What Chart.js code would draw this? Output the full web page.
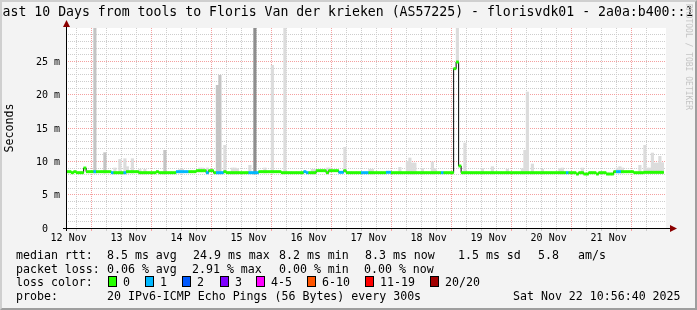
<!DOCTYPE html>
<html>
<head>
<meta charset="utf-8">
<script src="https://cdn.jsdelivr.net/npm/chart.js@4.4.1/dist/chart.umd.min.js"></script>
<style>
  body { margin: 0; background: #f3f3f3; }
  #wrap { position: relative; width: 697px; height: 310px; background: #f3f3f3; overflow: hidden;
          font-family: 'DejaVu Sans Mono', monospace; color: #000; }
  #chart { position: absolute; left: 0; top: 0; }
  #frame { position: absolute; left: 0; top: 0; width: 697px; height: 310px; box-sizing: border-box;
           border-top: 2px solid #cfcfcf; border-left: 2px solid #cfcfcf;
           border-right: 2px solid #9e9e9e; border-bottom: 2px solid #9e9e9e; pointer-events: none; }
  #title { position: absolute; left: 344px; top: 4px; transform: translateX(-50%);
           white-space: pre; font-size: 13.2px; line-height: 16px; }
  #rrd { position: absolute; left: 684px; top: 4px; writing-mode: vertical-rl;
         font-size: 8px; line-height: 9px; color: #c4c4c4; white-space: pre; }
  .t { position: absolute; white-space: pre; font-size: 11.6px; line-height: 14px; }
  .sw { position: absolute; top: 276px; width: 7px; height: 9px; border: 1px solid #000; }
</style>
</head>
<body>
<div id="wrap">
  <canvas id="chart" width="697" height="310"></canvas>
  <div id="title">Last 10 Days from tools to Floris Van der krieken (AS57225) - florisvdk01 - 2a0a:b400::1</div>
  <div id="rrd">RRDTOOL / TOBI OETIKER</div>

  <div class="t" style="left:16px;top:248px">median rtt:</div>
  <div class="t" style="left:107px;top:248px">8.5 ms avg</div>
  <div class="t" style="left:193px;top:248px">24.9 ms max</div>
  <div class="t" style="left:279px;top:248px">8.2 ms min</div>
  <div class="t" style="left:365px;top:248px">8.3 ms now</div>
  <div class="t" style="left:458px;top:248px">1.5 ms sd</div>
  <div class="t" style="left:538px;top:248px">5.8</div>
  <div class="t" style="left:578px;top:248px">am/s</div>

  <div class="t" style="left:16px;top:261.5px">packet loss:</div>
  <div class="t" style="left:107px;top:261.5px">0.06 % avg</div>
  <div class="t" style="left:192px;top:261.5px">2.91 % max</div>
  <div class="t" style="left:279px;top:261.5px">0.00 % min</div>
  <div class="t" style="left:364px;top:261.5px">0.00 % now</div>

  <div class="t" style="left:16px;top:275px">loss color:</div>
  <div id="swatches"></div>

  <div class="t" style="left:16px;top:289px">probe:</div>
  <div class="t" style="left:107px;top:289px">20 IPv6-ICMP Echo Pings (56 Bytes) every 300s</div>
  <div class="t" style="left:513px;top:289px">Sat Nov 22 10:56:40 2025</div>

  <div id="frame"></div>
</div>
<script>
// axes labels
const xTickLabels = ['12 Nov', '13 Nov', '14 Nov', '15 Nov', '16 Nov', '17 Nov', '18 Nov', '19 Nov', '20 Nov', '21 Nov'];
const yTickLabels = ['0  ', '5 m', '10 m', '15 m', '20 m', '25 m'];

// time axis in hours since 12 Nov 00:00, window = last 10 days up to 22 Nov 10:56:40
const viewStart = 10.944;
const viewEnd = 250.944;
const firstBin = 11;   // first hourly bin 12 Nov 11:00

// median rtt per hour (ms)
const medianRtt = [
  8.45, 8.45, 8.3, 8.45, 8.3, 8.3, 8.3, 9.0, 8.45, 8.45, 8.45, 8.45, 8.45, 8.45, 8.45, 8.45, 8.45, 8.45, 8.3, 8.3,
  8.3, 8.3, 8.3, 8.3, 8.45, 8.45, 8.45, 8.45, 8.45, 8.3, 8.3, 8.3, 8.3, 8.3, 8.3, 8.3, 8.45, 8.3, 8.3, 8.3,
  8.3, 8.3, 8.3, 8.3, 8.45, 8.45, 8.45, 8.45, 8.45, 8.45, 8.45, 8.45, 8.6, 8.6, 8.6, 8.6, 8.3, 8.6, 8.6, 8.3,
  8.3, 8.3, 8.3, 8.45, 8.3, 8.3, 8.3, 8.3, 8.3, 8.3, 8.3, 8.3, 8.3, 8.3, 8.3, 8.3, 8.3, 8.45, 8.45, 8.45,
  8.45, 8.45, 8.45, 8.45, 8.45, 8.45, 8.3, 8.3, 8.3, 8.3, 8.3, 8.3, 8.3, 8.3, 8.3, 8.45, 8.3, 8.3, 8.3, 8.3,
  8.6, 8.6, 8.6, 8.6, 8.3, 8.6, 8.6, 8.6, 8.6, 8.35, 8.35, 8.6, 8.3, 8.3, 8.3, 8.3, 8.3, 8.3, 8.3, 8.3,
  8.3, 8.3, 8.3, 8.3, 8.3, 8.3, 8.3, 8.3, 8.35, 8.35, 8.3, 8.3, 8.3, 8.3, 8.3, 8.3, 8.3, 8.3, 8.3, 8.3,
  8.3, 8.3, 8.3, 8.3, 8.3, 8.3, 8.3, 8.3, 8.3, 8.3, 8.3, 8.3, 8.3, 8.3, 8.3, 23.9, 24.9, 9.3, 8.3, 8.3,
  8.3, 8.3, 8.3, 8.3, 8.3, 8.3, 8.3, 8.3, 8.3, 8.3, 8.3, 8.3, 8.3, 8.3, 8.3, 8.3, 8.3, 8.3, 8.3, 8.3,
  8.3, 8.3, 8.3, 8.3, 8.3, 8.3, 8.3, 8.3, 8.3, 8.3, 8.3, 8.3, 8.3, 8.3, 8.3, 8.3, 8.3, 8.3, 8.3, 8.3,
  8.3, 8.3, 8.3, 8.3, 8.1, 8.3, 8.3, 8.1, 8.1, 8.3, 8.3, 8.3, 8.1, 8.3, 8.3, 8.3, 8.1, 8.1, 8.1, 8.45,
  8.45, 8.45, 8.45, 8.45, 8.45, 8.45, 8.45, 8.3, 8.3, 8.3, 8.3, 8.35, 8.35, 8.35, 8.35, 8.35, 8.35, 8.35, 8.35
];

// hours with 1/20 packet loss
const lossOneHours = [11, 18, 23, 44, 45, 46, 47, 48, 56, 60, 61, 62, 73, 74, 75, 76, 95, 96,
  109, 110, 118, 119, 120, 128, 129, 150, 200, 220, 221];

// smoke tops [hour index, ms]
const smokeLight = [
  [19, 9.0], [21, 10.3], [23, 10.4], [24, 9.2], [26, 10.4], [29, 8.8], [31, 8.8], [45, 8.8], [46, 8.8],
  [53, 9.0], [54, 9.0], [56, 9.0], [63, 12.4], [66, 9.0], [67, 9.0], [68, 8.9], [73, 9.4], [79, 9.0],
  [82, 24.4], [87, 31], [98, 8.8], [99, 8.8], [104, 9.0], [105, 9.0], [111, 12.1], [121, 8.8], [122, 8.8],
  [133, 9.1], [136, 10.0], [137, 10.5], [138, 9.75], [139, 9.75], [142, 8.9], [146, 9.9], [147, 8.9],
  [156, 31], [159, 12.75], [166, 8.9], [170, 9.2], [176, 8.8], [182, 8.9], [183, 11.65], [184, 20.4],
  [186, 9.6], [190, 8.8], [197, 8.9], [198, 9.0], [206, 9.0], [220, 9.0], [221, 9.2], [222, 9.0],
  [229, 9.4], [231, 12.4], [232, 9.0], [233, 9.0], [234, 11.25], [235, 9.75], [236, 9.75], [237, 10.75], [238, 9.8]
];
const smokeMid = [[11, 31], [15, 11.3], [39, 11.65], [60, 21.4], [61, 22.9]];
const smokeDark = [[75, 31]];

// loss colors
const lossLabels = ['0', '1', '2', '3', '4-5', '6-10', '11-19', '20/20'];
const lossColors = ['#26ff00', '#00b8ff', '#0059ff', '#7e00ff', '#ff00ff', '#ff5500', '#ff0000', '#a10000'];

// legend swatches
const swLeft = [108, 145, 182, 220, 256, 307, 365, 430];
const swBox = document.getElementById('swatches');
lossLabels.forEach((lab, i) => {
  const b = document.createElement('div');
  b.className = 'sw';
  b.style.left = swLeft[i] + 'px';
  b.style.background = lossColors[i];
  swBox.appendChild(b);
  const t = document.createElement('div');
  t.className = 't';
  t.style.left = (swLeft[i] + 15) + 'px';
  t.style.top = '275px';
  t.textContent = lab;
  swBox.appendChild(t);
});

function smokeData(list) {
  return list.map(([i, top]) => ({ x: firstBin + i + 0.5, y: [medianRtt[i] - 0.2, top] }));
}

const medianBars = medianRtt.map((v, i) => ({ x: firstBin + i + 0.5, y: [v - 0.22, v + 0.22] }));
const medianLine = medianRtt.map((v, i) => ({ x: firstBin + i, y: v }));
medianLine.push({ x: firstBin + medianRtt.length, y: medianRtt[medianRtt.length - 1] });

const RED_GRID = '#f4a0a0';
const GRAY_GRID = '#cdcdcd';
const NONE = 'rgba(0,0,0,0)';

const plotDeco = {
  id: 'plotDeco',
  beforeDraw(chart) {
    const { ctx, chartArea: a } = chart;
    ctx.save();
    ctx.fillStyle = '#ffffff';
    ctx.fillRect(a.left, a.top, a.right - a.left, a.bottom - a.top);
    ctx.restore();
  },
  afterDraw(chart) {
    const { ctx, chartArea: a } = chart;
    const x0 = a.left + 0.5, y0 = a.bottom + 0.5;
    ctx.save();
    ctx.strokeStyle = '#000';
    ctx.lineWidth = 1;
    ctx.beginPath();
    ctx.moveTo(x0, a.bottom + 3);
    ctx.lineTo(x0, a.top - 4);
    ctx.moveTo(a.left - 3, y0);
    ctx.lineTo(a.right + 5, y0);
    ctx.stroke();
    ctx.fillStyle = '#8b0000';
    ctx.beginPath();
    ctx.moveTo(x0, a.top - 8);
    ctx.lineTo(x0 - 3.5, a.top - 1);
    ctx.lineTo(x0 + 3.5, a.top - 1);
    ctx.closePath();
    ctx.fill();
    ctx.beginPath();
    ctx.moveTo(a.right + 11, y0);
    ctx.lineTo(a.right + 4, y0 - 3.5);
    ctx.lineTo(a.right + 4, y0 + 3.5);
    ctx.closePath();
    ctx.fill();
    ctx.restore();
  }
};

const xGridHours = [];
for (let h = 12; h < viewEnd; h += 6) xGridHours.push(h);
const yGridValues = [];
for (let v = 0; v <= 30; v++) yGridValues.push(v);

function xGridColor(c) {
  if (!c.tick) return NONE;
  return c.tick.value % 24 === 0 ? RED_GRID : GRAY_GRID;
}
function yGridColor(c) {
  if (!c.tick) return NONE;
  const v = c.tick.value;
  if (v === 0 || v === 30) return NONE;
  return v % 5 === 0 ? RED_GRID : GRAY_GRID;
}

Chart.defaults.font.family = "'DejaVu Sans Mono', monospace";
Chart.defaults.color = '#000';

new Chart(document.getElementById('chart'), {
  data: {
    datasets: [
      { type: 'bar', data: smokeData(smokeLight), backgroundColor: '#dcdcdc', grouped: false,
        barPercentage: 1, categoryPercentage: 1, order: 6 },
      { type: 'bar', data: smokeData(smokeMid), backgroundColor: '#c4c4c4', grouped: false,
        barPercentage: 1, categoryPercentage: 1, order: 5 },
      { type: 'bar', data: smokeData(smokeDark), backgroundColor: '#8e8e8e', grouped: false,
        barPercentage: 1, categoryPercentage: 1, order: 4 },
      { type: 'line', data: medianLine, borderColor: '#000', borderWidth: 1, stepped: 'before',
        pointRadius: 0, fill: false, order: 2 },
      { type: 'bar', data: medianBars, grouped: false, barPercentage: 1.15, categoryPercentage: 1, order: 1,
        backgroundColor: ctx => lossOneHours.includes(ctx.dataIndex) ? lossColors[1] : lossColors[0] }
    ]
  },
  options: {
    responsive: false,
    animation: false,
    devicePixelRatio: 1,
    layout: { padding: { left: 0, top: 28, right: 31, bottom: 0 } },
    plugins: { legend: { display: false }, tooltip: { enabled: false } },
    scales: {
      x: {
        type: 'linear',
        min: viewStart,
        max: viewEnd,
        offset: false,
        afterBuildTicks: s => { s.ticks = xGridHours.map(v => ({ value: v })); },
        afterFit: s => { s.height = 82; },
        border: { display: false, dash: [1, 1] },
        grid: { color: xGridColor, tickColor: xGridColor, tickLength: 3 },
        ticks: {
          autoSkip: false, maxRotation: 0, padding: 1,
          font: { size: 10 },
          callback: v => ((v - 12) % 24 === 0 ? xTickLabels[(v - 12) / 24] : '')
        }
      },
      y: {
        type: 'linear',
        min: 0,
        max: 30,
        afterBuildTicks: s => { s.ticks = yGridValues.map(v => ({ value: v })); },
        afterFit: s => { s.width = 66; },
        border: { display: false, dash: [1, 1] },
        grid: { drawTicks: false, color: yGridColor },
        ticks: {
          autoSkip: false, padding: 6, labelOffset: 1,
          font: { size: 10 },
          callback: v => (v % 5 === 0 && v < 30 ? yTickLabels[v / 5] : '')
        },
        title: { display: true, text: 'Seconds', font: { size: 11.6 }, padding: { top: 3, bottom: 0 } }
      }
    }
  },
  plugins: [plotDeco]
});
</script>
</body>
</html>
